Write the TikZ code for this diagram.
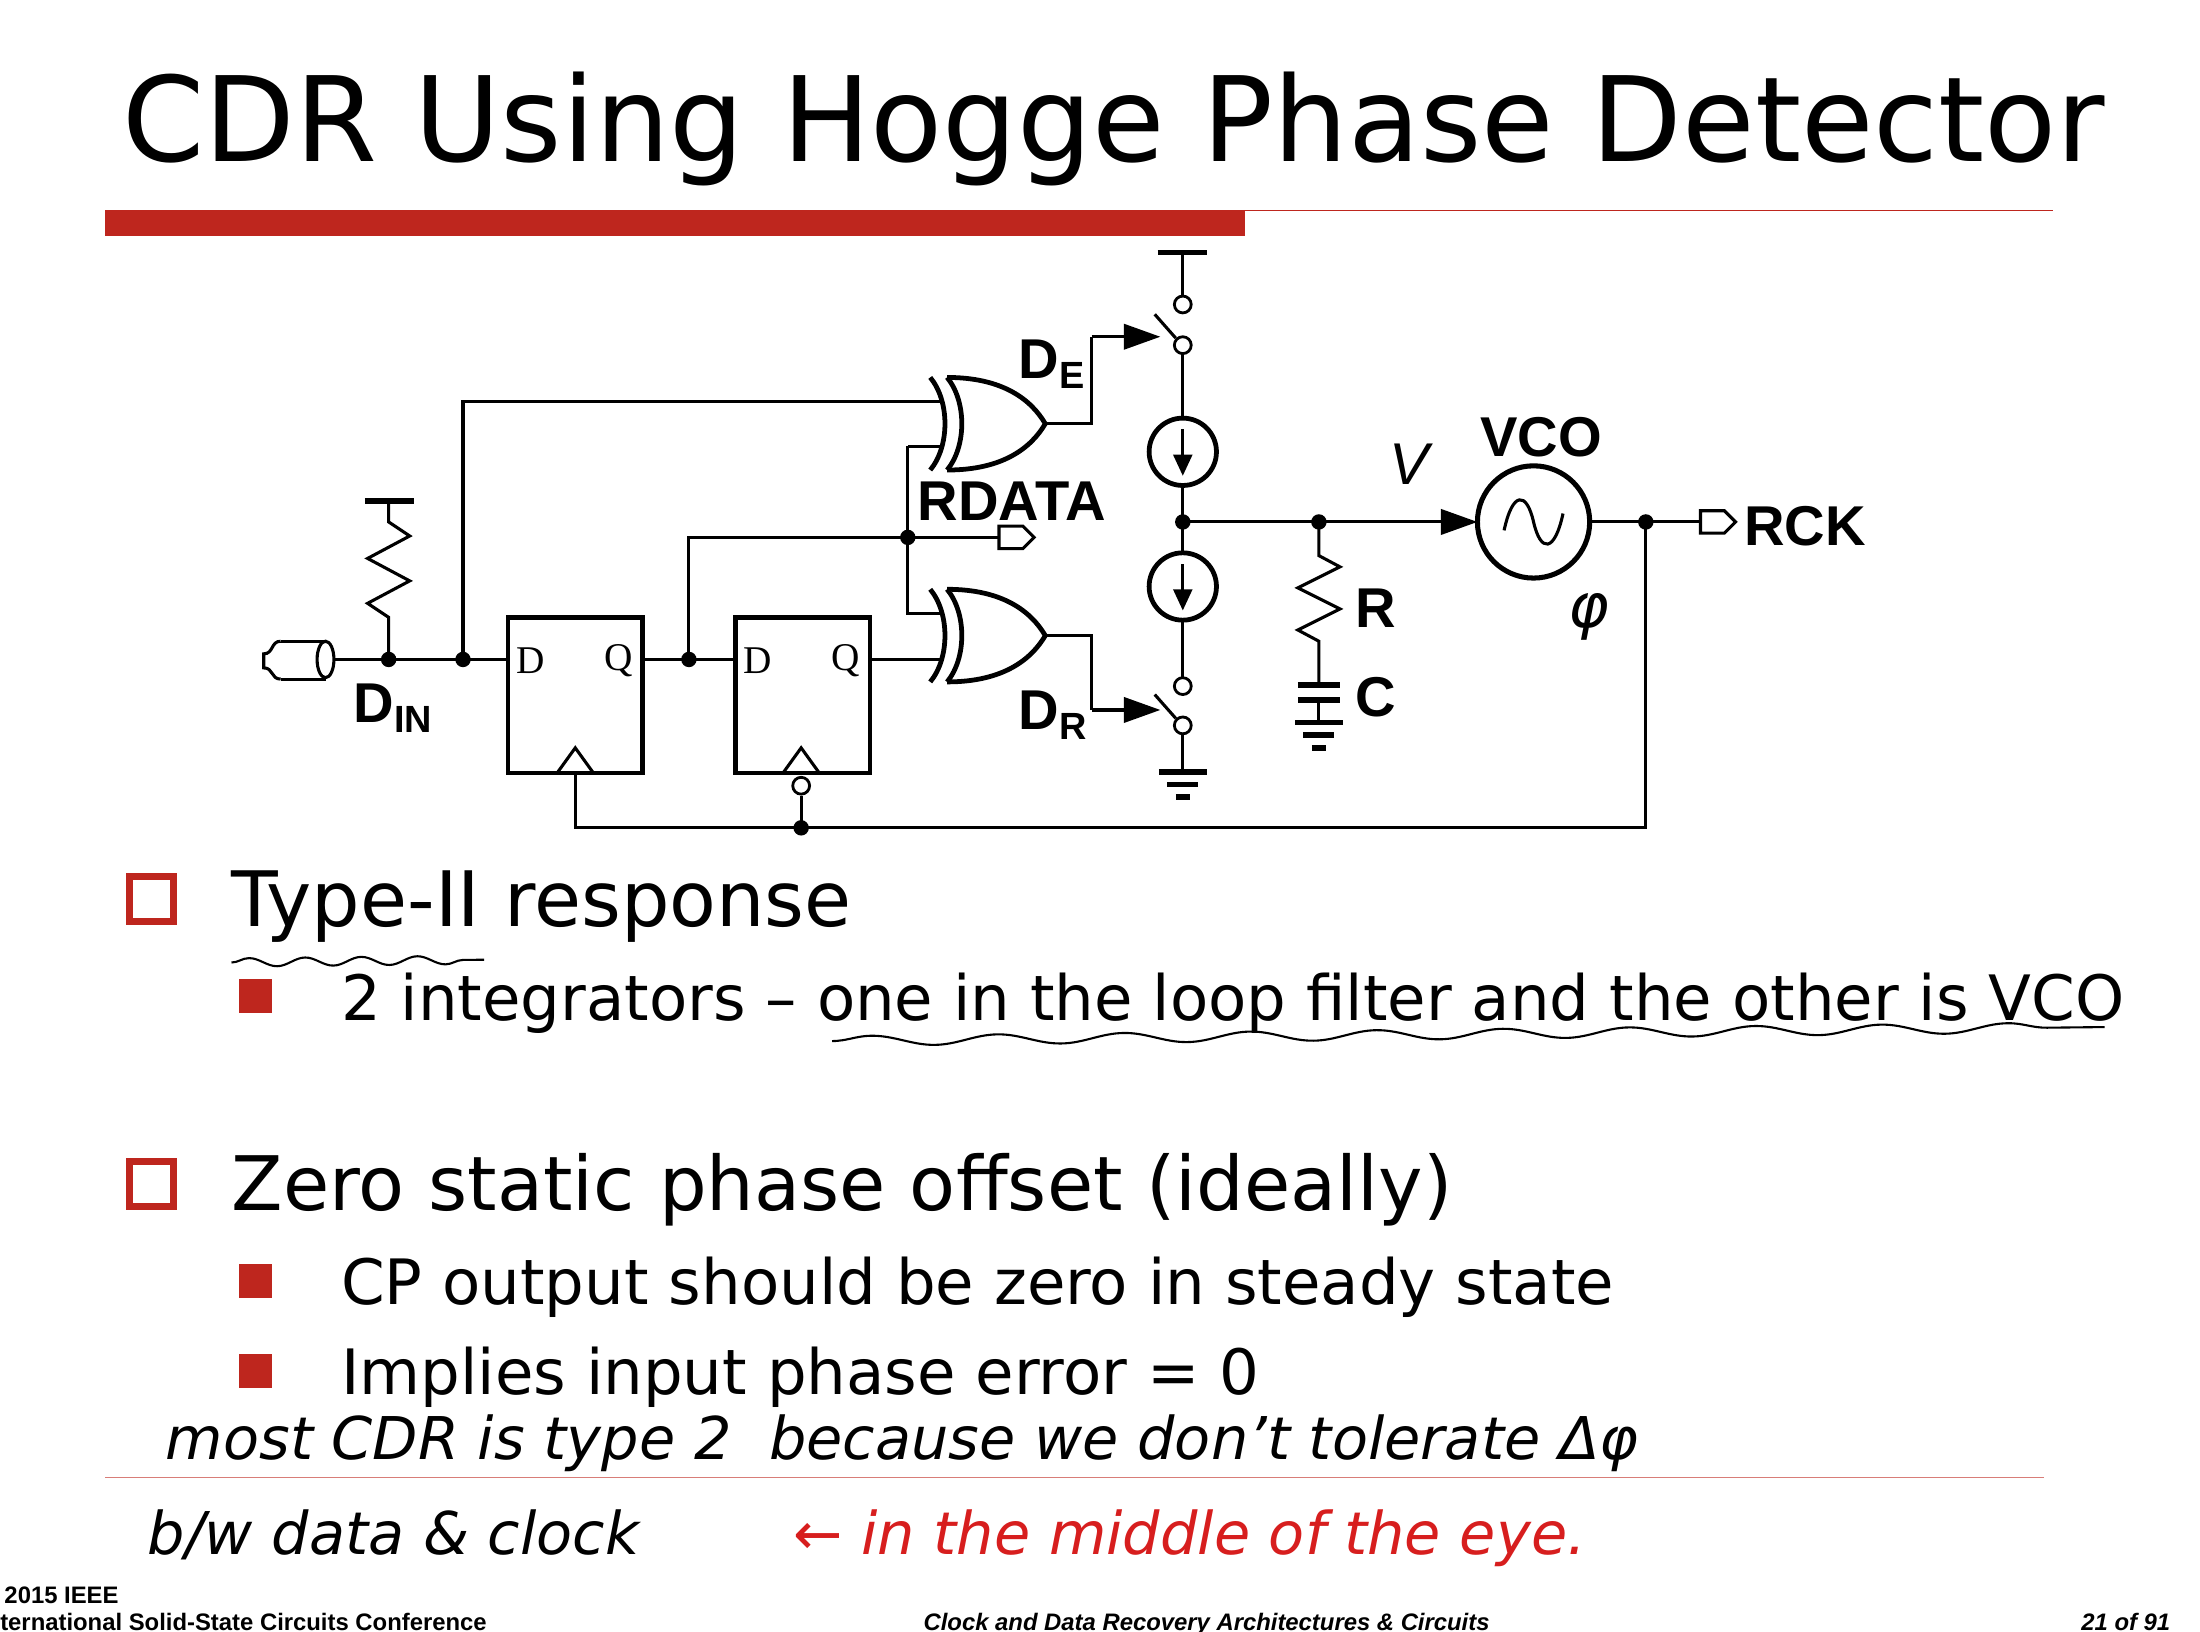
\documentclass[tikz,border=0pt]{standalone}
\usepackage{fontspec}
\setmainfont{DejaVu Sans}
\newfontfamily\arl{Liberation Sans}
\newfontfamily\tms{Liberation Serif}
\newfontfamily\djs{DejaVu Sans}
\usetikzlibrary{arrows.meta,decorations.pathmorphing}
\definecolor{slidered}{RGB}{190,38,30}
\definecolor{pen}{RGB}{215,30,30}
\newcommand\mysub[1]{\raisebox{-7pt}{\fontsize{27}{28}\selectfont #1}}
\tikzset{
 w/.style={line width=2.2pt},
 thk/.style={line width=3.4pt},
 dot/.style={circle,fill=black,inner sep=0pt,minimum size=11pt},
 oc/.style={circle,draw,line width=2pt,fill=white,inner sep=0pt,minimum size=12pt},
 lab/.style={font=\arl\bfseries\fontsize{40}{42}\selectfont,inner sep=0pt},
 ff/.style={font=\tms\fontsize{28}{30}\selectfont,inner sep=0pt},
 bul/.style={font=\fontsize{54.5}{58}\selectfont,anchor=base west,inner sep=0pt},
 sbul/.style={font=\fontsize{44.6}{48}\selectfont,anchor=base west,inner sep=0pt},
 hand/.style={font=\itshape\fontsize{42}{44}\selectfont,anchor=base west,inner sep=0pt},
 arr/.style={w,-{Triangle[length=26pt,width=18pt]}},
 pics/xorg/.style={code={
  \draw[thk] (0,-33) .. controls (14,-16) and (14,16) .. (0,33);
  \draw[thk] (12,-33) .. controls (26,-16) and (26,16) .. (12,33);
  \draw[thk] (12,-33) .. controls (52,-33) and (72,-17) .. (82,0) .. controls (72,17) and (52,33) .. (12,33);
 }},
 pics/gnd/.style={code={
  \draw[line width=4pt] (-17,0)--(17,0); \draw[line width=4pt] (-11,9)--(11,9); \draw[line width=4pt] (-5,18)--(5,18);
 }},
 pics/isrc/.style={code={
  \draw[line width=3.4pt,fill=white] (0,0) circle (24);
  \draw[w] (0,-16)--(0,10);
  \fill (0,17)--(-7,2)--(7,2)--cycle;
 }},
 pics/outp/.style={code={
  \draw[w,fill=white] (0,-8)--(17,-8)--(25,0)--(17,8)--(0,8)--cycle;
 }},
}
\begin{document}
\begin{tikzpicture}[x=1pt,y=-1pt]
\useasboundingbox (0,0) rectangle (1568,1163);
\fill[white] (0,0) rectangle (1568,1163);
% title
\node[anchor=base west,inner sep=0pt,font=\fontsize{84}{90}\selectfont] (title) at (87,115) {CDR Using Hogge Phase Detector};
\fill[slidered] (75,150) rectangle (887,168);
\draw[slidered,line width=1.3pt] (887,150)--(1463,150);
% ---- circuit ----
\coordinate (inp) at (238,470);
\draw[w] (200,457)--(232,457) (200,484)--(232,484);
\draw[w] (200,457) .. controls (193,457) and (195,466) .. (188,466) -- (188,476) .. controls (195,476) and (193,484) .. (200,484);
\draw[w] (232,470) ellipse (6 and 13);
\coordinate (j1) at (277,470); \coordinate (j2) at (330,470);
\draw[w] (inp)--(362,470);
\draw[w] (j1)--(277,440)--(262,430)--(292,414)--(262,398)--(292,382)--(277,372)--(277,357);
\draw[line width=4pt] (260,357)--(295,357);
\draw[w] (j2)--(330,286)--(672,286);
\draw[thk] (362,440) rectangle (458,551);
\draw[thk] (524,440) rectangle (620,551);
\node[ff] at (378,471) {D}; \node[ff] at (441,471) {Q};
\node[ff] at (540,471) {D}; \node[ff] at (603,471) {Q};
\draw[w] (397,551)--(410,533)--(423,551);
\draw[w] (558,551)--(571,533)--(584,551);
\coordinate (q1) at (491,470);
\draw[w] (458,470)--(524,470);
\draw[w] (q1)--(491,383)--(715,383);
\coordinate (rd) at (647,383);
\draw[w] (647,318)--(647,437)--(672,437);
\draw[w] (647,318)--(672,318);
\draw[w] (620,470)--(672,470);
\pic at (712,383) {outp};
\pic at (663,302) {xorg};
\pic at (663,453) {xorg};
\draw[w] (745,302)--(778,302)--(778,240);
\draw[arr] (778,240)--(827,240);
\draw[w] (745,453)--(778,453)--(778,506);
\draw[arr] (778,506)--(827,506);
\draw[line width=4pt] (825,180)--(860,180);
\draw[w] (843,180)--(843,211);
\draw[w] (843,252)--(843,298) (843,346)--(843,394) (843,442)--(843,483) (843,523)--(843,550);
\draw[w] (838,241)--(823,224);
\draw[w] (838,512)--(823,495);
\node[oc] (s1) at (843,217) {}; \node[oc] (s2) at (843,246) {};
\node[oc] (s3) at (843,489) {}; \node[oc] (s4) at (843,517) {};
\pic at (843,322) {isrc};
\pic at (843,418) {isrc};
\pic at (843,550) {gnd};
\coordinate (vn) at (843,372); \coordinate (rn) at (940,372);
\draw[arr] (vn)--(1053,372);
\draw[w] (rn)--(940,396)--(955,404)--(925,419)--(955,434)--(925,449)--(940,457)--(940,488);
\draw[line width=4pt] (925,488)--(955,488) (925,499)--(955,499);
\draw[w] (940,499)--(940,515);
\pic at (940,515) {gnd};
\draw[line width=3.6pt] (1093,372) circle (40);
\draw[w] (1072,378) .. controls (1078,350) and (1088,350) .. (1093,372) .. controls (1098,394) and (1108,394) .. (1114,366);
\coordinate (ck) at (1173,372);
\draw[w] (1133,372)--(1212,372);
\pic at (1212,372) {outp};
\draw[w] (ck)--(1173,590)--(410,590)--(410,551);
\draw[w] (571,590)--(571,567);
\node[oc] (bub) at (571,560) {};
\foreach \p in {j1,j2,q1,rd,vn,rn,ck} \node[dot] at (\p) {};
\node[dot] at (571,590) {};
\node[lab,anchor=base west] at (726,270) {D\mysub{E}};
\node[lab,anchor=base west] at (726,520) {D\mysub{R}};
\node[lab,anchor=base west] at (252,515) {D\mysub{IN}};
\node[lab,anchor=base west] at (654,371) {RDATA};
\node[lab,anchor=base west] at (1055,325) {VCO};
\node[lab,anchor=base west] at (1243,389) {RCK};
\node[lab,anchor=base west] at (966,447) {R};
\node[lab,anchor=base west] at (966,511) {C};
\node[anchor=base west,inner sep=0pt,font=\arl\itshape\fontsize{42}{42}\selectfont] at (990,345) {V};
\node[anchor=base west,inner sep=0pt,font=\djs\itshape\fontsize{44}{44}\selectfont] at (1118,447) {φ};
% ---- bullets ----
\draw[slidered,line width=5pt] (92,625) rectangle (124,657);
\node[bul] at (165,660) {Type-II response};
\fill[slidered] (170,698) rectangle (194,722);
\node[sbul] at (243,727) {2 integrators – one in the loop filter and the other is VCO};
\draw[slidered,line width=5pt] (92,828) rectangle (124,860);
\node[bul,font=\fontsize{53.6}{58}\selectfont] at (165,863) {Zero static phase offset (ideally)};
\fill[slidered] (170,901) rectangle (194,925);
\node[sbul] at (243,930) {CP output should be zero in steady state};
\fill[slidered] (170,965) rectangle (194,989);
\node[sbul] at (243,994) {Implies input phase error = 0};
\draw[line width=1.5pt,decorate,decoration={snake,amplitude=3pt,segment length=40pt}] (165,686)--(345,684);
\draw[line width=1.5pt,decorate,decoration={snake,amplitude=3.5pt,segment length=90pt}] (593,742)--(1500,732);
\draw[slidered!60,line width=1pt] (75,1053)--(1457,1053);
\node[hand] at (118,1040) {most CDR is type 2 \ because we don’t tolerate Δφ};
\node[hand] at (105,1108) {b/w data \& clock};
\node[hand,text=pen] at (565,1108) {← in the middle of the eye.};
\node[anchor=base west,inner sep=0pt,font=\arl\bfseries\fontsize{17}{18}\selectfont] at (3,1143) {2015 IEEE};
\node[anchor=base west,inner sep=0pt,font=\arl\bfseries\fontsize{17}{18}\selectfont] at (0,1162) {ternational Solid-State Circuits Conference};
\node[anchor=base,inner sep=0pt,font=\arl\bfseries\itshape\fontsize{17}{18}\selectfont] at (860,1162) {Clock and Data Recovery Architectures \& Circuits};
\node[anchor=base east,inner sep=0pt,font=\arl\bfseries\itshape\fontsize{17}{18}\selectfont] at (1547,1162) {21 of 91};
\end{tikzpicture}
\end{document}
